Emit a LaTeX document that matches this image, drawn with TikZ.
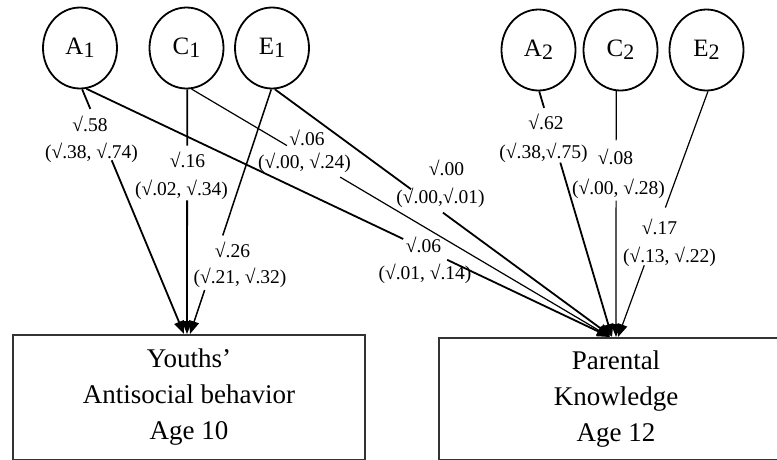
\documentclass[tikz,border=0pt]{standalone}
\usepackage{fontspec}
\setmainfont{Liberation Serif}
\usetikzlibrary{shapes.geometric,arrows.meta,calc}
\newcommand\lsub[1]{\raisebox{-0.12em}{\scalebox{0.88}{#1}}}
\newcommand\brokenlink[5]{%
  \draw[#1] (#2) -- ($(#2)!#4!(#3)$);
  \draw[#1,tip] ($(#2)!#5!(#3)$) -- (#3);}
\begin{document}
\begin{tikzpicture}[x=1pt,y=-1pt,
  lat/.style={ellipse,draw,line width=1.8pt,minimum width=74pt,minimum height=81pt,inner sep=0pt,font=\fontsize{25}{28}\selectfont},
  lab/.style={inner sep=0pt,font=\fontsize{19.5}{22}\selectfont},
  obs/.style={draw=black!80,line width=1.8pt,rectangle,align=center,inner sep=0pt,font=\fontsize{27}{36}\selectfont},
  lnk/.style={line width=1.8pt},
  lnkmid/.style={line width=1.5pt},
  lnkthin/.style={line width=1.2pt},
  tip/.style={-{Triangle[length=13pt,width=10pt]}}]
\useasboundingbox (0,0) rectangle (777,459);
\fill[white] (0,0) rectangle (777,459);
\begin{scope}
\clip (0,0) rectangle (777,459);
% latent factors
\node[lat] (A1) at (80,48) {A\lsub{1}};
\node[lat] (C1) at (186.5,48) {C\lsub{1}};
\node[lat] (E1) at (272,48) {E\lsub{1}};
\node[lat] (A2) at (538.5,50) {A\lsub{2}};
\node[lat] (C2) at (620.5,50) {C\lsub{2}};
\node[lat] (E2) at (706.5,50) {E\lsub{2}};
% observed variables
\node[obs,minimum width=352pt,minimum height=125pt] (YA) at (189,397.5)
  {Youths'\\Antisocial behavior\\Age 10};
\node[obs,minimum width=354pt,minimum height=122pt] (PK) at (616,399)
  {Parental\\Knowledge\\Age 12};
% arrow tips
\coordinate (tYa) at (184,334);
\coordinate (tYc) at (187,334);
\coordinate (tYe) at (190,334);
\coordinate (tPa) at (610,337);
\coordinate (tPc) at (610,337);
\coordinate (tPe) at (611,336);
\coordinate (tPa2) at (612,337);
\coordinate (tPc2) at (616,337);
\coordinate (tPe2) at (618,337);
% connectors
\brokenlink{lnk}{A1.-87}{tYa}{0.08}{0.29}
\brokenlink{lnk}{C1.-89}{tYc}{0.23}{0.454}
\brokenlink{lnkmid}{E1.-91}{tYe}{0.597}{0.82}
\brokenlink{lnk}{A1.-81}{tPa}{0.605}{0.689}
\brokenlink{lnkthin}{C1.-83}{tPc}{0.228}{0.355}
\brokenlink{lnk}{E1.-86}{tPe}{0.405}{0.5}
\brokenlink{lnk}{A2.-89}{tPa2}{0.067}{0.29}
\brokenlink{lnkthin}{C2.-96}{tPc2}{0.2}{0.445}
\brokenlink{lnkthin}{E2.-88}{tPe2}{0.473}{0.708}
% labels
\node[lab] (l1a) at (90,124) {√.58};
\node[lab] (l1b) at (91.5,153) {(√.38, √.74)};
\node[lab] (l2a) at (187.5,160) {√.16};
\node[lab] (l2b) at (181.5,190) {(√.02, √.34)};
\node[lab] (l3a) at (232.5,250) {√.26};
\node[lab] (l3b) at (240,278) {(√.21, √.32)};
\node[lab] (l4a) at (307,138) {√.06};
\node[lab] (l4b) at (304.5,163) {(√.00, √.24)};
\node[lab] (l5a) at (446.5,168) {√.00};
\node[lab] (l5b) at (440.5,198) {(√.00,√.01)};
\node[lab] (l6a) at (423.5,245) {√.06};
\node[lab] (l6b) at (425,274) {(√.01, √.14)};
\node[lab] (l7a) at (546,122) {√.62};
\node[lab] (l7b) at (543.5,153) {(√.38,√.75)};
\node[lab] (l8a) at (615.5,157) {√.08};
\node[lab] (l8b) at (618.5,189) {(√.00, √.28)};
\node[lab] (l9a) at (659.5,227) {√.17};
\node[lab] (l9b) at (669.5,257) {(√.13, √.22)};
\end{scope}
\end{tikzpicture}
\end{document}
